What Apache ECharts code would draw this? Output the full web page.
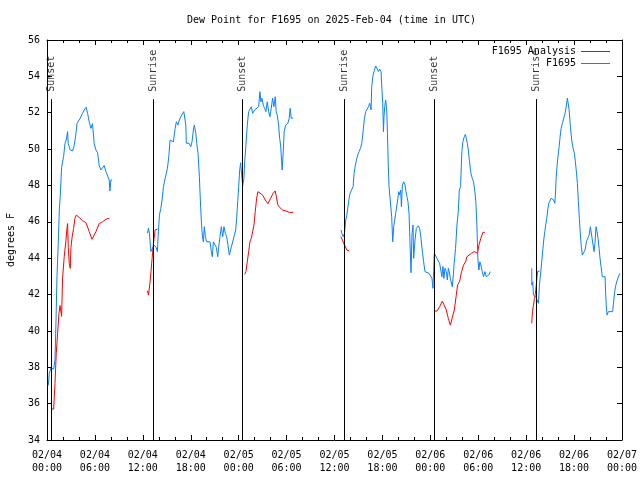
<!DOCTYPE html>
<html>
<head>
<meta charset="utf-8">
<script src="https://cdn.jsdelivr.net/npm/echarts@6/dist/echarts.min.js"></script>
<style>html,body{margin:0;padding:0;background:#fff;}#c{width:640px;height:480px;}</style>
</head>
<body>
<div id="c"></div>
<script>
// hours since 2025-02-04 00:00 UTC, dew point (F)
const xTickLabels = ['02/04\n00:00','02/04\n06:00','02/04\n12:00','02/04\n18:00','02/05\n00:00','02/05\n06:00','02/05\n12:00','02/05\n18:00','02/06\n00:00','02/06\n06:00','02/06\n12:00','02/06\n18:00','02/07\n00:00'];
const sunsetHours = [0.5, 24.5, 48.45];
const sunriseHours = [13.35, 37.2, 61.25];

const obsSeg1 = [[0.16,37.0],[0.29,37.67],[0.5,37.96],[0.83,37.9],[1.0,38.4],[1.13,40.6],[1.25,43.0],[1.41,44.8],[1.54,46.65],[1.66,47.4],[1.83,49.0],[2.08,49.6],[2.25,50.3],[2.41,50.5],[2.58,50.96],[2.66,50.3],[2.91,49.95],[3.2,49.9],[3.41,50.2],[3.63,50.87],[3.75,51.4],[3.91,51.5],[4.16,51.7],[4.45,51.97],[4.66,52.15],[4.91,52.3],[5.08,51.97],[5.29,51.5],[5.5,51.14],[5.7,51.4],[5.83,51.4],[5.91,50.3],[6.13,49.95],[6.33,49.8],[6.54,49.1],[6.75,48.85],[6.95,48.9],[7.16,49.1],[7.38,48.76],[7.58,48.7],[7.79,48.3],[7.88,47.7],[8.0,48.3],[8.16,48.3]];
const obsSeg2 = [[12.58,45.37],[12.7,45.64],[12.83,45.37],[13.0,44.36],[13.25,44.36],[13.41,44.72],[13.66,44.6],[13.83,44.36],[13.91,45.18],[14.08,46.37],[14.25,46.74],[14.41,47.2],[14.58,47.93],[14.75,48.3],[14.91,48.2],[15.08,48.94],[15.25,49.58],[15.41,50.5],[15.58,50.4],[15.83,50.4],[16.04,51.14],[16.2,51.5],[16.38,51.32],[16.58,51.6],[16.75,51.78],[16.95,51.87],[17.13,52.06],[17.25,52.15],[17.38,51.32],[17.45,50.32],[17.63,50.22],[17.79,50.32],[18.0,50.13],[18.16,50.4],[18.33,51.05],[18.45,51.32],[18.63,50.87],[18.75,50.32],[18.91,49.77],[19.08,48.48],[19.2,47.2],[19.33,46.0],[19.45,45.27],[19.58,44.9],[19.7,45.73],[19.83,45.18],[20.0,44.9],[20.2,44.82],[20.41,44.9],[20.58,44.36],[20.7,44.08],[20.83,44.9],[21.04,44.82],[21.2,44.6],[21.38,44.08],[21.5,44.6],[21.66,45.18],[21.83,45.73],[22.0,45.18],[22.16,45.73],[22.33,45.37],[22.5,45.18],[22.66,44.72],[22.83,44.17],[22.95,44.08],[23.08,44.6],[23.25,44.9],[23.45,44.9],[23.63,45.55],[23.75,46.19],[23.88,47.1],[24.0,47.93],[24.13,48.85],[24.25,49.25],[24.38,48.57],[24.5,48.0],[24.66,48.4],[24.75,49.3],[24.91,50.22],[25.08,51.32],[25.25,52.06],[25.41,52.15],[25.58,52.33],[25.75,51.97],[26.0,52.15],[26.25,52.24],[26.5,52.33],[26.66,53.16],[26.79,52.6],[26.91,52.8],[27.08,52.42],[27.25,52.24],[27.41,52.06],[27.58,52.6],[27.75,52.06],[27.91,51.78],[28.08,52.24],[28.25,52.8],[28.41,52.33],[28.58,52.88],[28.7,52.06],[28.83,51.87],[29.0,51.32],[29.13,50.6],[29.25,50.22],[29.38,49.3],[29.45,48.85],[29.58,49.86],[29.7,50.96],[29.88,51.32],[30.04,51.22],[30.16,51.42],[30.33,51.7],[30.45,52.24],[30.58,51.7],[30.83,51.7]];
const obsSeg3 = [[36.83,45.55],[36.91,45.37],[37.08,45.18],[37.25,45.37],[37.41,46.1],[37.54,46.37],[37.66,46.47],[37.75,46.28],[37.83,47.29],[37.95,47.57],[38.16,47.66],[38.33,47.93],[38.45,48.67],[38.58,49.03],[38.75,49.4],[38.91,49.67],[39.08,49.86],[39.25,50.04],[39.41,50.32],[39.58,50.96],[39.75,51.7],[39.91,52.06],[40.08,51.97],[40.25,52.33],[40.41,52.52],[40.58,52.15],[40.66,53.43],[40.83,54.07],[41.0,54.35],[41.16,54.57],[41.33,54.53],[41.5,54.26],[41.66,54.4],[41.83,54.26],[41.91,53.52],[42.04,52.52],[42.13,50.96],[42.2,51.78],[42.29,52.33],[42.41,52.7],[42.54,52.15],[42.63,50.87],[42.75,48.85],[42.83,47.93],[42.95,48.0],[43.08,47.93],[43.16,46.28],[43.29,44.9],[43.41,45.73],[43.54,46.1],[43.66,46.47],[43.83,46.56],[43.91,47.2],[44.04,47.66],[44.16,47.48],[44.29,47.75],[44.38,46.83],[44.5,48.02],[44.66,48.2],[44.83,48.02],[44.95,47.66],[45.08,47.38],[45.2,47.1],[45.33,46.47],[45.45,44.9],[45.58,43.2],[45.7,45.27],[45.83,45.82],[45.91,43.99],[46.08,45.0],[46.25,45.64],[46.38,45.73],[46.5,45.78],[46.66,45.64],[46.83,45.1],[47.0,44.36],[47.16,43.8],[47.33,43.26],[47.5,43.17],[47.83,43.17],[48.08,43.17],[48.2,42.89],[48.33,42.34],[48.41,43.26],[48.5,44.27],[48.66,44.2],[48.83,43.99],[49.0,43.9],[49.16,43.72],[49.33,43.62],[49.45,42.98],[49.58,43.54],[49.7,42.89],[49.83,43.44],[50.0,43.26],[50.13,42.8],[50.25,43.44],[50.38,43.26],[50.5,42.89],[50.63,42.8],[50.75,42.43],[50.88,43.08],[51.0,43.8],[51.16,44.54],[51.33,45.82],[51.5,46.56],[51.63,47.75],[51.7,47.66],[51.79,47.93],[51.88,49.12],[51.95,49.86],[52.08,50.41],[52.25,50.68],[52.38,50.81],[52.5,50.6],[52.63,50.32],[52.75,49.95],[52.91,49.3],[53.08,48.67],[53.25,48.4],[53.41,48.2],[53.58,47.66],[53.7,47.1],[53.83,45.82],[53.95,43.99],[54.08,43.35],[54.2,43.8],[54.33,43.62],[54.5,43.26],[54.66,42.98],[54.83,43.26],[55.0,42.98],[55.16,42.89],[55.33,43.08],[55.5,43.26]];
const obsSeg4 = [[60.7,43.44],[60.71,42.52],[60.83,42.7],[60.91,41.97],[61.04,41.88],[61.2,41.88],[61.38,41.79],[61.54,41.52],[61.66,42.52],[61.79,43.07],[61.95,43.8],[62.08,44.45],[62.2,45.0],[62.33,45.46],[62.45,45.82],[62.58,46.19],[62.7,46.65],[62.83,47.02],[63.0,47.1],[63.13,47.29],[63.29,47.38],[63.45,47.2],[63.58,47.02],[63.66,47.47],[63.75,48.39],[63.88,49.12],[64.0,49.67],[64.13,50.13],[64.25,50.68],[64.38,51.14],[64.54,51.42],[64.7,51.7],[64.88,51.97],[65.04,52.42],[65.16,52.8],[65.25,52.88],[65.38,52.15],[65.54,51.23],[65.7,50.5],[65.88,50.04],[66.04,49.77],[66.16,49.3],[66.29,48.76],[66.41,48.12],[66.54,47.1],[66.66,46.19],[66.79,45.27],[66.91,44.63],[67.04,44.17],[67.2,44.08],[67.38,44.45],[67.54,44.9],[67.7,45.0],[67.88,45.27],[68.04,45.73],[68.25,45.73],[68.38,44.72],[68.5,44.36],[68.63,44.9],[68.75,45.73],[68.88,45.46],[69.0,45.09],[69.13,44.54],[69.25,43.99],[69.38,43.53],[69.54,42.98],[69.88,42.98],[69.95,42.07],[70.04,41.33],[70.13,40.87],[70.29,41.06],[70.54,41.0],[70.83,41.06],[70.95,41.6],[71.08,42.15],[71.25,42.56],[71.41,42.8],[71.63,43.07],[71.75,43.17]];

const anaSeg1 = [[0.5,35.7],[0.83,35.7],[1.0,37.1],[1.16,38.77],[1.33,39.87],[1.5,40.97],[1.63,41.4],[1.75,41.3],[1.83,40.8],[1.95,42.9],[2.16,44.1],[2.38,45.0],[2.5,45.64],[2.58,45.9],[2.66,44.6],[2.79,43.7],[2.91,43.44],[3.0,44.6],[3.16,45.2],[3.33,45.64],[3.5,46.2],[3.66,46.37],[4.04,46.24],[4.45,46.06],[4.88,45.95],[5.29,45.46],[5.63,45.04],[5.83,45.04],[6.13,45.46],[6.54,45.9],[6.95,46.0],[7.38,46.14],[7.79,46.2]];
const anaSeg2 = [[12.58,42.21],[12.7,41.97],[12.83,41.88],[12.91,42.7],[13.04,43.35],[13.16,43.99],[13.29,44.63],[13.41,45.1],[13.54,45.55],[13.83,45.6]];
const anaSeg3 = [[24.75,43.1],[24.91,43.26],[25.08,43.8],[25.25,44.36],[25.41,44.9],[25.58,45.1],[25.75,45.46],[25.91,45.82],[26.08,46.56],[26.25,47.3],[26.41,47.66],[26.66,47.7],[27.0,47.47],[27.33,47.2],[27.66,47.0],[28.0,47.3],[28.33,47.57],[28.58,47.7],[28.75,47.3],[28.91,46.93],[29.16,46.78],[29.5,46.65],[29.91,46.6],[30.33,46.52],[30.83,46.52]];
const anaSeg4 = [[36.79,45.18],[37.0,45.0],[37.13,44.82],[37.33,44.67],[37.54,44.45],[37.83,44.4]];
const anaSeg5 = [[48.5,41.09],[48.83,41.09],[49.16,41.33],[49.5,41.64],[49.75,41.64],[50.0,41.15],[50.25,40.69],[50.5,40.32],[50.75,40.32],[51.0,41.15],[51.25,41.97],[51.41,42.52],[51.66,42.71],[51.91,43.26],[52.16,43.62],[52.41,43.8],[52.58,44.08],[52.83,44.17],[53.16,44.27],[53.5,44.36],[53.75,44.4],[53.91,44.27],[54.08,44.72],[54.33,45.1],[54.58,45.42],[54.83,45.42]];
const anaSeg6 = [[60.7,40.42],[60.79,41.06],[60.91,41.42],[61.04,41.79],[61.16,42.07],[61.29,42.62],[61.41,43.26],[61.66,43.3]];

function joinSegs(segs) {
  const out = [];
  segs.forEach((s, i) => {
    if (i > 0) out.push([s[0][0] - 0.01, null]);
    s.forEach(p => out.push(p));
  });
  return out;
}

const FONT = 'DejaVu Sans Mono';
const lineTop = 52.75;
const labelBase = 53.15;
const events = sunsetHours.map(h => ({h, name: 'Sunset'})).concat(sunriseHours.map(h => ({h, name: 'Sunrise'})));

const chart = echarts.init(document.getElementById('c'), null, {renderer: 'canvas'});
const axisCommon = {
  type: 'value', min: 0, max: 72, interval: 6,
  axisLine: {show: true, onZero: false, lineStyle: {color: '#000', width: 1}},
  axisTick: {show: true, inside: true, length: 5, lineStyle: {color: '#000'}},
  minorTick: {show: true, splitNumber: 3, length: 3, lineStyle: {color: '#000'}},
  splitLine: {show: false}
};
chart.setOption({
  animation: false,
  backgroundColor: '#fff',
  title: {
    text: 'Dew Point for F1695 on 2025-Feb-04 (time in UTC)',
    left: 182, top: 10,
    textStyle: {fontFamily: FONT, fontSize: 10, fontWeight: 'normal', color: '#000'}
  },
  legend: {
    data: ['F1695 Analysis', 'F1695'],
    orient: 'vertical', right: 25, top: 40.5,
    align: 'right', icon: 'rect', itemWidth: 29, itemHeight: 1, itemGap: 0,
    textStyle: {fontFamily: FONT, fontSize: 10, color: '#000', lineHeight: 12}
  },
  grid: {left: 47, right: 18, top: 40, bottom: 40, containLabel: false, outerBoundsMode: 'none'},
  xAxis: [
    Object.assign({}, axisCommon, {
      position: 'bottom',
      axisLabel: {show: true, showMinLabel: true, showMaxLabel: true, margin: 9, color: '#000', fontFamily: FONT, fontSize: 10, lineHeight: 13,
        formatter: v => xTickLabels[Math.round(v / 6)]}
    }),
    Object.assign({}, axisCommon, {position: 'top', axisLabel: {show: false}})
  ],
  yAxis: [
    {
      type: 'value', min: 34, max: 56, interval: 2, position: 'left',
      name: 'degrees F', nameLocation: 'middle', nameRotate: 90, nameGap: 31,
      nameTextStyle: {fontFamily: FONT, fontSize: 10, color: '#000'},
      axisLine: {show: true, onZero: false, lineStyle: {color: '#000'}},
      axisTick: {show: true, inside: true, length: 5, lineStyle: {color: '#000'}},
      axisLabel: {margin: 7, color: '#000', fontFamily: FONT, fontSize: 10},
      splitLine: {show: false}
    },
    {
      type: 'value', min: 34, max: 56, interval: 2, position: 'right',
      axisLine: {show: true, onZero: false, lineStyle: {color: '#000'}},
      axisTick: {show: true, inside: true, length: 5, lineStyle: {color: '#000'}},
      axisLabel: {show: false},
      splitLine: {show: false}
    }
  ],
  series: [
    {
      name: 'events', type: 'scatter', silent: true, z: 1,
      symbolSize: 1, itemStyle: {color: 'rgba(0,0,0,0)'},
      data: events.map(e => ({value: [e.h, labelBase], name: e.name})),
      label: {show: true, position: 'inside', rotate: 90, align: 'left', verticalAlign: 'middle',
        formatter: p => p.name, color: '#000', fontFamily: FONT, fontSize: 10},
      markLine: {
        silent: true, symbol: ['none', 'none'], animation: false,
        lineStyle: {color: '#000', width: 1, type: 'solid'},
        label: {show: false},
        data: events.map(e => [{coord: [e.h, 34]}, {coord: [e.h, lineTop]}])
      }
    },
    {
      name: 'F1695 Analysis', type: 'line', symbol: 'none', showSymbol: false, connectNulls: false, z: 2,
      lineStyle: {color: '#ff0000', width: 1}, itemStyle: {color: '#ff0000'},
      data: joinSegs([anaSeg1, anaSeg2, anaSeg3, anaSeg4, anaSeg5, anaSeg6])
    },
    {
      name: 'F1695', type: 'line', symbol: 'none', showSymbol: false, connectNulls: false, z: 3,
      lineStyle: {color: '#0a80ff', width: 1}, itemStyle: {color: '#0a80ff'},
      data: joinSegs([obsSeg1, obsSeg2, obsSeg3, obsSeg4])
    }
  ]
});
</script>
</body>
</html>
